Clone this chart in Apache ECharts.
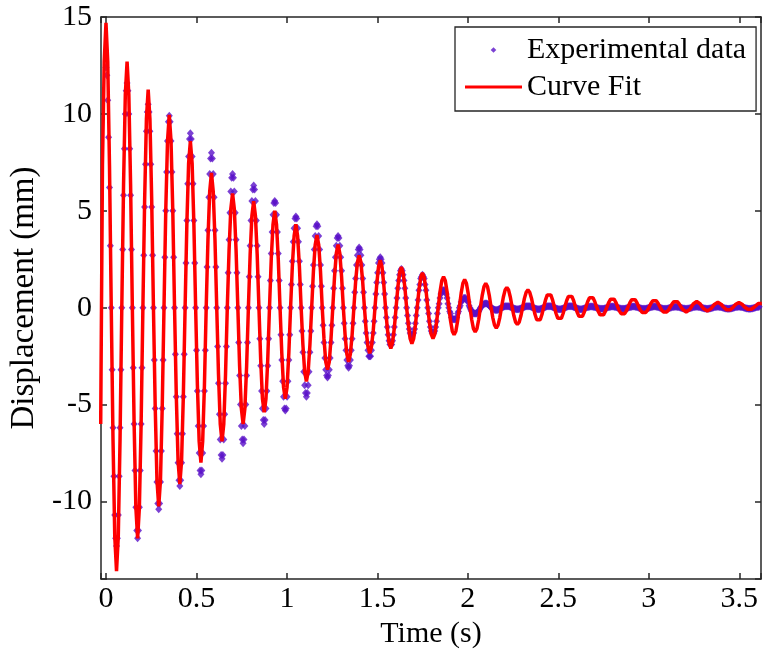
<!DOCTYPE html>
<html>
<head>
<meta charset="utf-8">
<script src="https://cdn.jsdelivr.net/npm/echarts@6/dist/echarts.min.js"></script>
<style>
html,body{margin:0;padding:0;background:#fff;}
#chart{width:764px;height:654px;}
</style>
</head>
<body>
<div id="chart"></div>
<script>
// ---- data ----
const seriesNames = ['Experimental data', 'Curve Fit'];
const xTickValues = [0, 0.5, 1, 1.5, 2, 2.5, 3, 3.5];
const yTickValues = [-10, -5, 0, 5, 10, 15];

// Experimental data: uniformly sampled (sampling step in seconds), first sample at t = 0
const expStart = 0;
const expStep = 0.0048583;
const expValues = [
12.4,12.0,10.7,8.8,6.2,3.2,0,-3.2,-6.2,-8.7,-10.7,-11.9,
-12.3,-11.9,-10.7,-8.7,-6.2,-3.2,0,3.0,5.8,8.2,10.0,11.2,
11.6,11.2,10.0,8.2,5.8,3.0,0,-3.1,-6.0,-8.4,-10.3,-11.5,
-11.9,-11.5,-10.3,-8.4,-6.0,-3.1,0,2.7,5.2,7.4,9.1,10.1,
10.5,10.1,9.1,7.4,5.2,2.7,0,-2.7,-5.2,-7.4,-9.0,-10.1,
-10.4,-10.1,-9.0,-7.4,-5.2,-2.7,0,2.6,5.0,7.0,8.6,9.6,
9.9,9.6,8.6,7.0,5.0,2.6,0,-2.4,-4.6,-6.5,-8.0,-8.9,
-9.2,-8.9,-8.0,-6.5,-4.6,-2.4,0,2.3,4.5,6.4,7.8,8.7,
9.0,8.7,7.8,6.4,4.5,2.3,0,-2.2,-4.3,-6.1,-7.5,-8.4,
-8.6,-8.4,-7.5,-6.1,-4.3,-2.2,0,2.1,4.0,5.7,6.9,7.7,
8.0,7.7,6.9,5.7,4.0,2.1,0,-2.0,-3.9,-5.5,-6.8,-7.6,
-7.8,-7.6,-6.8,-5.5,-3.9,-2.0,0,1.8,3.5,4.9,6.0,6.7,
6.9,6.7,6.0,4.9,3.5,1.8,0,-1.8,-3.5,-5.0,-6.1,-6.8,
-7.0,-6.8,-6.1,-5.0,-3.5,-1.8,0,1.6,3.2,4.5,5.5,6.1,
6.3,6.1,5.5,4.5,3.2,1.6,0,-1.6,-3.0,-4.3,-5.2,-5.8,
-6.0,-5.8,-5.2,-4.3,-3.0,-1.6,0,1.4,2.8,3.9,4.8,5.4,
5.5,5.4,4.8,3.9,2.8,1.4,0,-1.4,-2.7,-3.8,-4.6,-5.2,
-5.3,-5.2,-4.6,-3.8,-2.7,-1.4,0,1.2,2.4,3.4,4.1,4.6,
4.7,4.6,4.1,3.4,2.4,1.2,0,-1.2,-2.3,-3.3,-4.0,-4.4,
-4.6,-4.4,-4.0,-3.3,-2.3,-1.2,0,1.1,2.2,3.0,3.7,4.2,
4.3,4.2,3.7,3.0,2.2,1.1,0,-0.9,-1.8,-2.6,-3.2,-3.5,
-3.6,-3.5,-3.2,-2.6,-1.8,-0.9,0,1.0,1.9,2.6,3.2,3.6,
3.7,3.6,3.2,2.6,1.9,1.0,0,-0.8,-1.6,-2.2,-2.7,-3.0,
-3.1,-3.0,-2.7,-2.2,-1.6,-0.8,0,0.8,1.5,2.2,2.7,3.0,
3.1,3.0,2.7,2.2,1.5,0.8,0,-0.7,-1.3,-1.8,-2.2,-2.5,
-2.5,-2.5,-2.2,-1.8,-1.3,-0.7,0,0.7,1.3,1.8,2.3,2.5,
2.6,2.5,2.3,1.8,1.3,0.7,0,-0.5,-1.0,-1.4,-1.7,-1.9,
-1.9,-1.9,-1.7,-1.4,-1.0,-0.5,0,0.5,1.0,1.4,1.7,1.9,
2.0,1.9,1.7,1.4,1.0,0.5,0,-0.4,-0.8,-1.1,-1.3,-1.4,
-1.5,-1.4,-1.3,-1.1,-0.8,-0.4,0,0.4,0.9,1.2,1.5,1.6,
1.7,1.6,1.5,1.2,0.9,0.4,0,-0.3,-0.7,-1.0,-1.2,-1.3,
-1.3,-1.3,-1.2,-1.0,-0.7,-0.3,0,0.2,0.5,0.7,0.8,0.9,
0.9,0.9,0.8,0.7,0.5,0.2,0,-0.2,-0.3,-0.5,-0.6,-0.6,
-0.6,-0.6,-0.6,-0.5,-0.3,-0.2,0,0.1,0.3,0.4,0.4,0.5,
0.5,0.5,0.4,0.4,0.3,0.1,0,-0.1,-0.2,-0.2,-0.3,-0.3,
-0.3,-0.3,-0.3,-0.2,-0.2,-0.1,0,.06,.11,.16,.19,.21,
.22,.21,.19,.16,.11,.06,0,-.03,-.06,-.08,-.1,-.12,
-.12,-.12,-.1,-.08,-.06,-.03,0,.02,.04,.06,.07,.08,
.08,.08,.07,.06,.04,.02,0,-.02,-.04,-.06,-.07,-.08,
-.08,-.08,-.07,-.06,-.04,-.02,0,.02,.04,.06,.07,.08,
.08,.08,.07,.06,.04,.02,0,-.02,-.04,-.06,-.07,-.08,
-.08,-.08,-.07,-.06,-.04,-.02,0,.02,.04,.06,.07,.08,
.08,.08,.07,.06,.04,.02,0,-.02,-.04,-.06,-.07,-.08,
-.08,-.08,-.07,-.06,-.04,-.02,0,.02,.04,.06,.07,.08,
.08,.08,.07,.06,.04,.02,0,-.02,-.04,-.06,-.07,-.08,
-.08,-.08,-.07,-.06,-.04,-.02,0,.02,.03,.04,.05,.06,
.06,.06,.05,.04,.03,.02,0,-.02,-.03,-.04,-.05,-.06,
-.06,-.06,-.05,-.04,-.03,-.02,0,.02,.03,.04,.05,.06,
.06,.06,.05,.04,.03,.02,0,-.02,-.03,-.04,-.05,-.06,
-.06,-.06,-.05,-.04,-.03,-.02,0,.02,.03,.04,.05,.06,
.06,.06,.05,.04,.03,.02,0,-.02,-.03,-.04,-.05,-.06,
-.06,-.06,-.05,-.04,-.03,-.02,0,.02,.03,.04,.05,.06,
.06,.06,.05,.04,.03,.02,0,-.02,-.03,-.04,-.05,-.06,
-.06,-.06,-.05,-.04,-.03,-.02,0,.01,.03,.04,.04,.05,
.05,.05,.04,.04,.03,.01,0,-.01,-.03,-.04,-.04,-.05,
-.05,-.05,-.04,-.04,-.03,-.01,0,.01,.03,.04,.04,.05,
.05,.05,.04,.04,.03,.01,0,-.01,-.03,-.04,-.04,-.05,
-.05,-.05,-.04,-.04,-.03,-.01,0,.01,.03,.04,.04,.05,
.05,.05,.04,.04,.03,.01,0,-.01,-.03,-.04,-.04,-.05,
-.05,-.05,-.04,-.04,-.03,-.01,0,.01,.03,.04,.04,.05,
.05,.05,.04,.04,.03,.01,0,-.01,-.03,-.04,-.04,-.05,
-.05,-.05,-.04,-.04,-.03,-.01,0,.01,.03,.04,.04,.05
];

// Curve fit: uniformly sampled, first sample just left of the axis
const fitStart = -0.02915;
const fitStep = 0.0097167;
const fitValues = [
-6.0,7.35,12.7,
14.7,12.7,7.35,0,-6.8,-11.8,
-13.6,-11.8,-6.8,0,6.35,11.0,
12.7,11.0,6.35,0,-5.95,-10.3,
-11.9,-10.3,-5.95,0,5.6,9.74,
11.25,9.74,5.6,0,-5.1,-8.9,
-10.25,-8.9,-5.1,0,5.0,8.6,
9.95,8.6,5.0,0,-4.55,-7.9,
-9.1,-7.9,-4.55,0,4.3,7.45,
8.6,7.45,4.3,0,-4.0,-6.9,
-8.0,-6.9,-4.0,0,3.5,6.0,
6.95,6.0,3.5,0,-3.45,-6.0,
-6.9,-6.0,-3.45,0,2.95,5.1,
5.9,5.1,2.95,0,-3.0,-5.2,
-6.0,-5.2,-3.0,0,2.75,4.75,
5.5,4.75,2.75,0,-2.7,-4.7,
-5.4,-4.7,-2.7,0,2.5,4.3,
5.0,4.3,2.5,0,-2.35,-4.1,
-4.7,-4.1,-2.35,0,2.15,3.7,
4.3,3.7,2.15,0,-1.9,-3.3,
-3.8,-3.3,-1.9,0,1.9,3.25,
3.75,3.25,1.9,0,-1.6,-2.8,
-3.2,-2.8,-1.6,0,1.6,2.8,
3.25,2.8,1.6,0,-1.4,-2.4,
-2.8,-2.4,-1.4,0,1.35,2.35,
2.7,2.35,1.35,0,-1.2,-2.0,
-2.35,-2.0,-1.2,0,1.2,2.1,
2.45,2.1,1.2,0,-1.05,-1.8,
-2.1,-1.8,-1.05,0,1.05,1.8,
2.1,1.8,1.05,0,-0.9,-1.6,
-1.85,-1.6,-0.9,0,0.9,1.55,
1.8,1.56,0.92,0.03,-0.79,-1.38,
-1.6,-1.38,-0.79,0.03,0.82,1.39,
1.6,1.39,0.82,0.03,-0.69,-1.21,
-1.4,-1.21,-0.69,0.03,0.74,1.26,
1.45,1.26,0.74,0.03,-0.61,-1.08,
-1.25,-1.08,-0.61,0.03,0.64,1.09,
1.25,1.09,0.64,0.03,-0.51,-0.9,
-1.05,-0.9,-0.51,0.03,0.54,0.91,
1.05,0.91,0.54,0.03,-0.42,-0.75,
-0.87,-0.75,-0.42,0.03,0.48,0.8,
0.92,0.8,0.49,0.05,-0.34,-0.62,
-0.72,-0.62,-0.34,0.05,0.4,0.66,
0.75,0.66,0.4,0.05,-0.3,-0.55,
-0.64,-0.55,-0.3,0.05,0.36,0.58,
0.66,0.58,0.36,0.05,-0.24,-0.44,
-0.52,-0.44,-0.24,0.05,0.32,0.51,
0.58,0.51,0.32,0.05,-0.19,-0.37,
-0.43,-0.37,-0.19,0.05,0.28,0.44,
0.5,0.44,0.28,0.05,-0.16,-0.31,
-0.36,-0.31,-0.16,0.05,0.26,0.41,
0.46,0.41,0.26,0.05,-0.13,-0.25,
-0.3,-0.25,-0.13,0.05,0.23,0.36,
0.41,0.36,0.23,0.05,-0.11,-0.22,
-0.26,-0.22,-0.11,0.05,0.2,0.31,
0.35,0.31,0.2,0.05,-0.09,-0.18,
-0.22,-0.18,-0.09,0.05,0.19,0.28,
0.32,0.28,0.19,0.05,-0.06,-0.14,
-0.17,-0.14,-0.06,0.05,0.17,0.25,
0.28,0.25,0.17,0.05,-0.05,-0.11,
-0.14,-0.11,-0.05,0.05,0.16,0.24,
0.27,0.24,0.16,0.05,-0.03,-0.08,
-0.1,-0.08,-0.03,0.05,0.15,0.22,
0.25,0.22
];

// axis ranges
const xMin = -0.0275, xMax = 3.62, xStep = 0.5;
const yMin = -14, yMax = 15, yStep = 5;

// ---- build chart ----
const FONT = '"Liberation Serif", "Times New Roman", serif';
const AXIS_COLOR = '#262626';
const PURPLE = '#5a12c8';
const RED = '#ff0000';

// legend icons: a box of 57x8 (defined by the two zero-length segments) with the mark inside
const ICON_DIAMOND = 'path://M0,0L0,0M57,8L57,8M28.5,1.2L31.3,4L28.5,6.8L25.7,4Z';
const ICON_LINE = 'path://M0,0L0,0M57,8L57,8M0,2.6L57,2.6L57,5.4L0,5.4Z';

const expData = expValues.map((v, i) => [expStart + i * expStep, v]);
const fitData = fitValues.map((v, i) => [fitStart + i * fitStep, v]);

function onGrid(v, step) {
  const r = v / step;
  return Math.abs(r - Math.round(r)) < 1e-6;
}
function xLabel(v) {
  if (!onGrid(v, xStep)) return '';
  const r = Math.round(v * 2) / 2;
  return xTickValues.indexOf(r) >= 0 ? String(r) : '';
}
function yLabel(v) {
  if (!onGrid(v, yStep)) return '';
  const r = Math.round(v);
  return yTickValues.indexOf(r) >= 0 ? String(r) : '';
}

const chart = echarts.init(document.getElementById('chart'), null, {renderer: 'canvas'});
const axisLineStyle = {color: AXIS_COLOR, width: 1.5};
chart.setOption({
  animation: false,
  backgroundColor: '#ffffff',
  grid: {left: 101, top: 17, width: 664, height: 562, containLabel: false},
  legend: {
    left: 455, top: 27, orient: 'vertical',
    padding: [8, 10, 9, 10], itemGap: 7,
    itemWidth: 57, itemHeight: 8,
    borderColor: AXIS_COLOR, borderWidth: 1.3, backgroundColor: '#ffffff',
    textStyle: {fontFamily: FONT, fontSize: 30, color: '#000', lineHeight: 30},
    data: [
      {name: seriesNames[0], icon: ICON_DIAMOND, itemStyle: {color: PURPLE}},
      {name: seriesNames[1], icon: ICON_LINE, itemStyle: {color: RED}}
    ]
  },
  xAxis: [
    {
      type: 'value', position: 'bottom', min: xMin, max: xMax,
      minInterval: xStep, maxInterval: xStep,
      name: 'Time (s)', nameLocation: 'middle', nameGap: 37,
      nameTextStyle: {fontFamily: FONT, fontSize: 30, color: '#000'},
      axisLine: {show: true, onZero: false, lineStyle: axisLineStyle},
      axisTick: {show: true, inside: true, length: 6, lineStyle: axisLineStyle},
      axisLabel: {show: true, margin: 5, fontFamily: FONT, fontSize: 30, color: '#000', formatter: xLabel},
      splitLine: {show: false}
    },
    {
      type: 'value', position: 'top', min: xMin, max: xMax,
      minInterval: xStep, maxInterval: xStep,
      axisLine: {show: true, onZero: false, lineStyle: axisLineStyle},
      axisTick: {show: true, inside: true, length: 6, lineStyle: axisLineStyle},
      axisLabel: {show: false},
      splitLine: {show: false}
    }
  ],
  yAxis: [
    {
      type: 'value', position: 'left', min: yMin, max: yMax,
      minInterval: yStep, maxInterval: yStep,
      name: 'Displacement (mm)', nameLocation: 'middle', nameGap: 54,
      nameTextStyle: {fontFamily: FONT, fontSize: 33, color: '#000'},
      axisLine: {show: true, onZero: false, lineStyle: axisLineStyle},
      axisTick: {show: true, inside: true, length: 6, lineStyle: axisLineStyle},
      axisLabel: {show: true, margin: 9, fontFamily: FONT, fontSize: 30, color: '#000', formatter: yLabel},
      splitLine: {show: false}
    },
    {
      type: 'value', position: 'right', min: yMin, max: yMax,
      minInterval: yStep, maxInterval: yStep,
      axisLine: {show: true, onZero: false, lineStyle: axisLineStyle},
      axisTick: {show: true, inside: true, length: 6, lineStyle: axisLineStyle},
      axisLabel: {show: false},
      splitLine: {show: false}
    }
  ],
  series: [
    {
      name: seriesNames[0], type: 'scatter', xAxisIndex: 0, yAxisIndex: 0,
      symbol: 'diamond', symbolSize: [7, 8],
      itemStyle: {color: PURPLE},
      data: expData, z: 2, silent: true
    },
    {
      name: seriesNames[1], type: 'line', xAxisIndex: 0, yAxisIndex: 0,
      showSymbol: false, symbol: 'none',
      lineStyle: {color: RED, width: 3.5},
      itemStyle: {color: RED},
      data: fitData, z: 3, silent: true, clip: true
    }
  ]
});
</script>
</body>
</html>
